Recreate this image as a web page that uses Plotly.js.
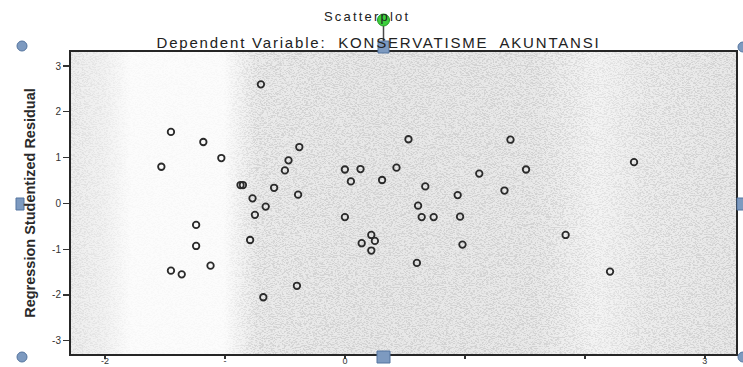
<!DOCTYPE html>
<html>
<head>
<meta charset="utf-8">
<script src="https://cdn.plot.ly/plotly-3.0.1.min.js"></script>
<style>
  html, body { margin: 0; padding: 0; background: #ffffff; }
  #chart { width: 743px; height: 367px; }
  #chart g.annotation[data-index="0"] text { letter-spacing: 2.2px; }
  #chart g.annotation[data-index="1"] text { letter-spacing: 1.8px; }
</style>
</head>
<body>
<div id="chart"></div>
<script>
// ---- Data (standardized predicted value vs studentized residual) ----
const predictedX = [
  -0.70, -1.45, -1.18, -1.03, -1.53, -0.38, -0.47, -0.50, 0.00, 0.13,
  0.05, -0.87, -0.85, -0.59, -0.39, -0.77, -0.66, -0.75, 0.00, -1.24,
  -1.24, -0.79, -1.12, -1.45, -1.36, -0.40, -0.68, 0.22, 0.14, 0.25,
  0.22, 0.53, 1.38, 0.43, 0.31, 1.12, 1.51, 0.67, 1.33, 0.94,
  0.61, 0.64, 0.74, 0.96, 0.98, 1.84, 0.60, 2.41, 2.21
];
const residualY = [
  2.60, 1.56, 1.34, 0.99, 0.80, 1.23, 0.94, 0.72, 0.74, 0.75,
  0.48, 0.40, 0.40, 0.34, 0.19, 0.11, -0.07, -0.25, -0.30, -0.47,
  -0.93, -0.80, -1.36, -1.47, -1.55, -1.80, -2.05, -0.69, -0.87, -0.82,
  -1.03, 1.40, 1.39, 0.78, 0.51, 0.65, 0.74, 0.37, 0.28, 0.18,
  -0.05, -0.30, -0.30, -0.29, -0.90, -0.69, -1.30, 0.90, -1.49
];
const xTickVals = [-2, -1, 0, 1, 2, 3];
const xTickText = ['-2', '-', '0', '', '', '3'];
const yTickVals = [-3, -2, -1, 0, 1, 2, 3];
const yTickText = ['-3', '-2', '-1', '0', '1', '2', '3'];
const chartTitle = 'Scatterplot';
const chartSubtitle = 'Dependent Variable:  KONSERVATISME  AKUNTANSI';
const yTitle = 'Regression Studentized Residual';

// ---- Layout geometry ----
const W = 743, H = 367;
const M = { l: 71, r: 7, t: 52, b: 13 };
const plotW = W - M.l - M.r, plotH = H - M.t - M.b;
const px = v => (v - M.l) / plotW;          // pixel x -> paper x
const py = v => (H - M.b - v) / plotH;      // pixel y -> paper y

// background: speckled grey scan look (gradient + fine noise)
const bgSvg =
  '<svg xmlns="http://www.w3.org/2000/svg" width="665" height="302" viewBox="0 0 665 302" preserveAspectRatio="none">' +
  '<defs>' +
  '<linearGradient id="g" x1="0" y1="0" x2="1" y2="0">' +
  '<stop offset="0" stop-color="#eeeeee"/>' +
  '<stop offset="0.05" stop-color="#f2f2f2"/>' +
  '<stop offset="0.09" stop-color="#fcfcfc"/>' +
  '<stop offset="0.23" stop-color="#fcfcfc"/>' +
  '<stop offset="0.28" stop-color="#ebebeb"/>' +
  '<stop offset="0.45" stop-color="#e8e8e8"/>' +
  '<stop offset="0.70" stop-color="#e9e9e9"/>' +
  '<stop offset="0.79" stop-color="#f4f4f4"/>' +
  '<stop offset="0.86" stop-color="#ededed"/>' +
  '<stop offset="1" stop-color="#e8e8e8"/>' +
  '</linearGradient>' +
  '<linearGradient id="d" x1="0" y1="0" x2="1" y2="0">' +
  '<stop offset="0" stop-color="#aaaaaa"/>' +
  '<stop offset="0.06" stop-color="#555555"/>' +
  '<stop offset="0.09" stop-color="#262626"/>' +
  '<stop offset="0.23" stop-color="#262626"/>' +
  '<stop offset="0.28" stop-color="#ffffff"/>' +
  '<stop offset="0.72" stop-color="#ffffff"/>' +
  '<stop offset="0.80" stop-color="#999999"/>' +
  '<stop offset="0.87" stop-color="#eeeeee"/>' +
  '<stop offset="1" stop-color="#ffffff"/>' +
  '</linearGradient>' +
  '<mask id="m"><rect x="0" y="0" width="665" height="302" fill="url(#d)"/></mask>' +
  '<filter id="n" x="0" y="0" width="665" height="302" filterUnits="userSpaceOnUse">' +
  '<feTurbulence type="fractalNoise" baseFrequency="0.45 1.1" numOctaves="2" seed="7"/>' +
  '<feColorMatrix type="matrix" values="0 0 0 0 0.35  0 0 0 0 0.35  0 0 0 0 0.35  7 0 0 0 -3.3"/>' +
  '</filter>' +
  '</defs>' +
  '<rect x="0" y="0" width="665" height="302" fill="url(#g)"/>' +
  '<g mask="url(#m)"><rect x="0" y="0" width="665" height="302" fill="#000" filter="url(#n)" opacity="0.30"/></g>' +
  '</svg>';

const handleFill = '#7d9ac0', handleLine = '#55759f';
function circ(cx, cy, r, fill, line) {
  return { type: 'circle', xref: 'paper', yref: 'paper',
    x0: px(cx - r), x1: px(cx + r), y0: py(cy + r), y1: py(cy - r),
    fillcolor: fill, line: { color: line, width: 1 }, layer: 'above' };
}
function rect(x0, y0, x1, y1) {
  return { type: 'rect', xref: 'paper', yref: 'paper',
    x0: px(x0), x1: px(x1), y0: py(y1), y1: py(y0),
    fillcolor: handleFill, line: { color: handleLine, width: 1 }, layer: 'above' };
}
const shapes = [
  circ(22, 46, 5, handleFill, handleLine),
  circ(22, 357, 5, handleFill, handleLine),
  rect(16, 198, 24, 210),
  rect(377, 351, 390, 363),
  rect(378, 41, 389, 53),
  { type: 'line', xref: 'paper', yref: 'paper', x0: px(383.5), x1: px(383.5), y0: py(26), y1: py(41),
    line: { color: '#4a4a4a', width: 1.5 }, layer: 'above' },
  circ(383.5, 20, 6, '#3ccf3c', '#229922'),
  circ(743, 47, 5, handleFill, handleLine),
  rect(737, 198, 745, 210),
  circ(743, 357, 5, handleFill, handleLine)
];

const trace = {
  type: 'scatter', mode: 'markers',
  x: predictedX, y: residualY,
  marker: { symbol: 'circle-open', size: 6.5, color: '#2a2a2a', line: { width: 1.8, color: '#2a2a2a' } },
  hoverinfo: 'x+y'
};

const axisFont = { family: 'Liberation Sans, Arial, sans-serif', size: 10, color: '#333333' };

const layout = {
  width: W, height: H,
  margin: M,
  paper_bgcolor: '#ffffff',
  plot_bgcolor: 'rgba(0,0,0,0)',
  showlegend: false,
  font: { family: 'Liberation Sans, Arial, sans-serif', color: '#222222' },
  xaxis: {
    range: [-2.283, 3.26],
    tickmode: 'array', tickvals: xTickVals, ticktext: xTickText,
    ticks: 'outside', ticklen: 3, tickwidth: 1.5, tickcolor: '#333333',
    ticklabelstandoff: -6,
    tickfont: { family: 'Liberation Sans, Arial, sans-serif', size: 9, color: '#333333' },
    showline: true, mirror: true, linecolor: '#262626', linewidth: 2,
    showgrid: false, zeroline: false, fixedrange: true
  },
  yaxis: {
    range: [-3.29, 3.306],
    tickmode: 'array', tickvals: yTickVals, ticktext: yTickText,
    ticks: 'outside', ticklen: 6, tickwidth: 1.2, tickcolor: '#333333',
    tickfont: axisFont,
    showline: true, mirror: true, linecolor: '#262626', linewidth: 2,
    showgrid: false, zeroline: false, fixedrange: true,
    title: { text: '<b>' + yTitle + '</b>', standoff: 13,
      font: { family: 'Liberation Sans, Arial, sans-serif', size: 14.5, color: '#2a2a2a' } }
  },
  images: [{
    source: 'data:image/svg+xml;charset=utf-8,' + encodeURIComponent(bgSvg),
    xref: 'paper', yref: 'paper', x: 0, y: 1, sizex: 1, sizey: 1,
    sizing: 'stretch', xanchor: 'left', yanchor: 'top', layer: 'below'
  }],
  annotations: [
    { text: chartTitle, xref: 'paper', yref: 'paper', x: px(367), y: py(17),
      xanchor: 'center', yanchor: 'middle', showarrow: false,
      font: { family: 'Liberation Sans, Arial, sans-serif', size: 13, color: '#222222' } },
    { text: chartSubtitle, xref: 'paper', yref: 'paper', x: px(378), y: py(43),
      xanchor: 'center', yanchor: 'middle', showarrow: false,
      font: { family: 'Liberation Sans, Arial, sans-serif', size: 15, color: '#222222' } }
  ],
  shapes: shapes
};

Plotly.newPlot('chart', [trace], layout, { displayModeBar: false, staticPlot: true });
</script>
</body>
</html>
